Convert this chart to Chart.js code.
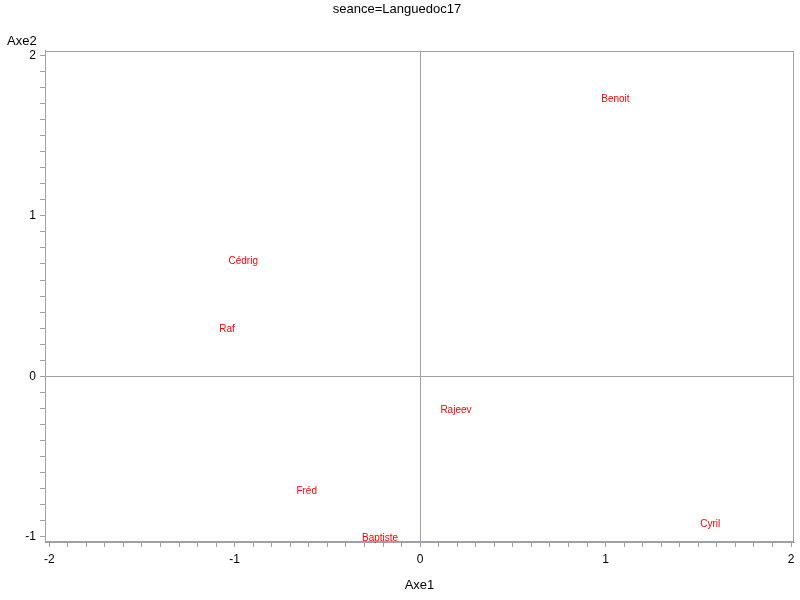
<!DOCTYPE html>
<html>
<head>
<meta charset="utf-8">
<script src="https://cdn.jsdelivr.net/npm/chart.js@4/dist/chart.umd.min.js"></script>
<style>
  html, body { margin: 0; padding: 0; background: #fff; }
  #wrap { width: 800px; height: 600px; }
</style>
</head>
<body>
<div id="wrap"><canvas id="plot" width="800" height="600"></canvas></div>
<script>
// individuals on the first factorial plane
var names = ['Benoit', 'Cédrig', 'Raf', 'Rajeev', 'Fréd', 'Baptiste', 'Cyril'];
var axe1 = [1.053, -0.954, -1.041, 0.193, -0.612, -0.216, 1.564];
var axe2 = [1.726, 0.718, 0.295, -0.212, -0.717, -1.009, -0.922];

// tick labels
var xTickLabels = [-2, -1, 0, 1, 2];
var yTickLabels = [-1, 0, 1, 2];

var lineGray = '#9ea2a8';
var fontName = '"Liberation Sans", Arial, sans-serif';

function minorTicks(from, to) {
    // ticks every 0.1 between the major labels
    var ticks = [];
    for (var i = Math.round(from * 10); i <= Math.round(to * 10); i++) {
        ticks.push({ value: i / 10 });
    }
    return ticks;
}

function isMajor(v, list) {
    return list.some(function (m) { return Math.abs(m - v) < 1e-9; });
}

var labelPlugin = {
    id: 'pointLabels',
    afterDatasetsDraw: function (chart) {
        var ctx = chart.ctx;
        var meta = chart.getDatasetMeta(0);
        ctx.save();
        ctx.font = '10px ' + fontName;
        ctx.fillStyle = '#ff0000';
        ctx.textAlign = 'center';
        ctx.textBaseline = 'middle';
        meta.data.forEach(function (pt, i) {
            ctx.fillText(names[i], pt.x, pt.y);
        });
        ctx.restore();
    }
};

var framePlugin = {
    id: 'frame',
    afterDraw: function (chart) {
        var a = chart.chartArea;
        var ctx = chart.ctx;
        ctx.save();
        ctx.strokeStyle = lineGray;
        ctx.lineWidth = 1;
        ctx.strokeRect(Math.round(a.left) + 0.5, Math.round(a.top) + 0.5,
            Math.round(a.right - a.left) - 1, Math.round(a.bottom - a.top) - 1);
        // vertical axis title sits above the axis
        ctx.font = '13px ' + fontName;
        ctx.fillStyle = '#000';
        ctx.textAlign = 'left';
        ctx.textBaseline = 'middle';
        ctx.fillText('Axe2', 7, 41);
        ctx.restore();
    }
};

var ctx = document.getElementById('plot').getContext('2d');
var chart = new Chart(ctx, {
    type: 'scatter',
    data: {
        datasets: [{
            data: axe1.map(function (x, i) { return { x: x, y: axe2[i] }; }),
            pointRadius: 0,
            pointHoverRadius: 0
        }]
    },
    options: {
        responsive: false,
        animation: false,
        events: [],
        layout: { padding: { left: 0, right: 6, top: 0, bottom: 0 } },
        plugins: {
            legend: { display: false },
            tooltip: { enabled: false },
            title: {
                display: true,
                text: 'seance=Languedoc17',
                color: '#000',
                font: { family: fontName, size: 13, weight: 'normal' },
                padding: { top: 2, bottom: 33 }
            }
        },
        scales: {
            x: {
                type: 'linear',
                min: -2.023,
                max: 2.016,
                afterBuildTicks: function (scale) { scale.ticks = minorTicks(-2, 2); },
                afterFit: function (scale) { scale.height = 58; },
                ticks: {
                    autoSkip: false,
                    maxRotation: 0,
                    padding: 5,
                    color: '#000',
                    font: { family: fontName, size: 12 },
                    callback: function (v) { return isMajor(v, xTickLabels) ? String(Math.round(v)) : ''; }
                },
                grid: {
                    color: function (c) { return c.tick && c.tick.value === 0 ? lineGray : 'rgba(0,0,0,0)'; },
                    tickColor: lineGray,
                    tickLength: 5
                },
                border: { display: true, color: lineGray },
                title: {
                    display: true,
                    text: 'Axe1',
                    color: '#000',
                    font: { family: fontName, size: 13 },
                    padding: { top: 0, bottom: 7 }
                }
            },
            y: {
                type: 'linear',
                min: -1.034,
                max: 2.031,
                afterBuildTicks: function (scale) { scale.ticks = minorTicks(-1, 2); },
                afterFit: function (scale) { scale.width = 45; },
                ticks: {
                    autoSkip: false,
                    padding: 4,
                    color: '#000',
                    font: { family: fontName, size: 12 },
                    callback: function (v) { return isMajor(v, yTickLabels) ? String(Math.round(v)) : ''; }
                },
                grid: {
                    color: function (c) { return c.tick && c.tick.value === 0 ? lineGray : 'rgba(0,0,0,0)'; },
                    tickColor: lineGray,
                    tickLength: 5
                },
                border: { display: true, color: lineGray }
            }
        }
    },
    plugins: [labelPlugin, framePlugin]
});
</script>
</body>
</html>
